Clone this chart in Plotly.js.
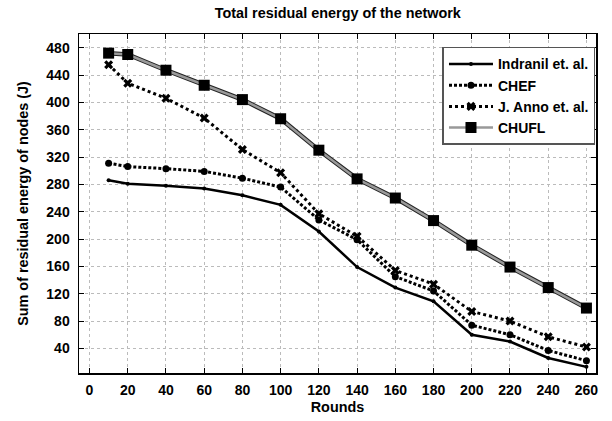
<!DOCTYPE html>
<html><head><meta charset="utf-8">
<script src="https://cdn.plot.ly/plotly-3.0.1.min.js"></script>
<style>body{margin:0;background:#fff}#c{width:612px;height:421px}</style>
</head><body><div id="c"></div>
<script>
const rounds = [10,20,40,60,80,100,120,140,160,180,200,220,240,260];
const indranil = [286,281,278,274,264,250,211,159,129,109,60,50,26,13];
const chef = [311,306,303,299,289,276,228,199,145,124,74,60,37,22];
const janno = [455,428,406,377,331,297,237,204,154,134,94,80,57,42];
const chufl = [472,470,447,425,404,376,330,288,260,227,191,159,129,99];
const names = ['Indranil et. al.','CHEF','J. Anno et. al.','CHUFL'];
const xTicks = [0,20,40,60,80,100,120,140,160,180,200,220,240,260];
const yTicks = [40,80,120,160,200,240,280,320,360,400,440,480];

const traces = [
 {x:rounds,y:chufl,mode:'lines',line:{color:'#222',width:4.5},showlegend:false,hoverinfo:'skip'},
 {x:rounds,y:indranil,name:names[0],mode:'lines+markers',line:{color:'#000',width:2.5},marker:{symbol:'circle',size:4,color:'#000'}},
 {x:rounds,y:chef,name:names[1],mode:'lines+markers',line:{color:'#000',width:3,dash:'3px,2px'},marker:{symbol:'circle',size:7,color:'#000'}},
 {x:rounds,y:janno,name:names[2],mode:'lines+markers',line:{color:'#000',width:3,dash:'dot'},marker:{symbol:'x',size:8,color:'#000'}},
 {x:rounds,y:chufl,name:names[3],mode:'lines+markers',line:{color:'#999',width:2.5},marker:{symbol:'square',size:11,color:'#000'}}
];
const fam = '"Liberation Sans", Arial, sans-serif';
const layout = {
 width:612,height:421,
 margin:{l:79,r:16,t:34,b:48},
 paper_bgcolor:'#fff',plot_bgcolor:'#fff',
 font:{family:fam,size:14,color:'#000'},
 title:{text:'<b>Total residual energy of the network</b>',x:0.552,xanchor:'center',y:0.969,yanchor:'middle',font:{family:fam,size:14.4,color:'#000'}},
 xaxis:{range:[-5.5,265],tickvals:xTicks,ticks:'inside',ticklen:5,tickcolor:'#000',mirror:'allticks',showline:true,linecolor:'#000',linewidth:1.5,
   showgrid:true,gridcolor:'#bbb',griddash:'dot',gridwidth:1,zeroline:false,ticklabelstandoff:4,
   tickfont:{family:fam,size:14,color:'#000',weight:'bold'},
   title:{text:'<b>Rounds</b>',font:{family:fam,size:14.4,color:'#000'},standoff:4}},
 yaxis:{range:[4,500],tickvals:yTicks,ticks:'inside',ticklen:5,tickcolor:'#000',mirror:'allticks',showline:true,linecolor:'#000',linewidth:1.5,
   showgrid:true,gridcolor:'#bbb',griddash:'dot',gridwidth:1,zeroline:false,ticklabelstandoff:5,
   tickfont:{family:fam,size:14,color:'#000',weight:'bold'},
   title:{text:'<b>Sum of residual energy of nodes (J)</b>',font:{family:fam,size:14.4,color:'#000'},standoff:14}},
 legend:{x:0.999,xanchor:'right',y:0.962,yanchor:'top',bgcolor:'#fff',bordercolor:'#555',borderwidth:1.5,
   font:{family:fam,size:14,color:'#000',weight:'bold'},tracegroupgap:0,itemwidth:44}
};
Plotly.newPlot('c',traces,layout,{displayModeBar:false,staticPlot:true});
</script></body></html>
